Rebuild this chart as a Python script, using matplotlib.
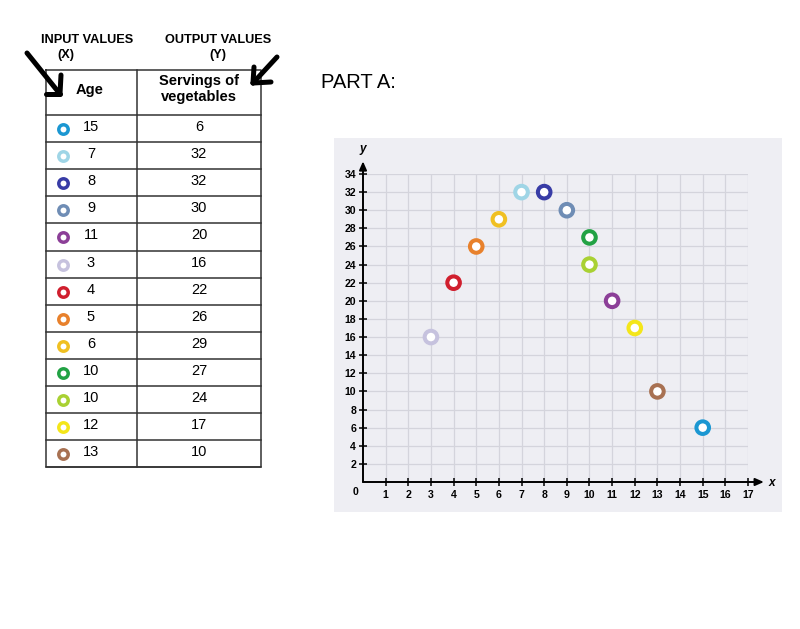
import matplotlib
matplotlib.use("Agg")
import matplotlib.pyplot as plt
from matplotlib.patches import Rectangle

plt.rcParams['font.family'] = ['Liberation Sans', 'DejaVu Sans']

# ---- data ----
ages = [15, 7, 8, 9, 11, 3, 4, 5, 6, 10, 10, 12, 13]
servings = [6, 32, 32, 30, 20, 16, 22, 26, 29, 27, 24, 17, 10]
colors = ['#1b97d2', '#9fd5e6', '#383ca6', '#6f8db5', '#8c3f98', '#c6c2de',
          '#d01f2e', '#e8812c', '#f0c022', '#22a244', '#a9d133', '#f4e61a', '#a87152']
x_ticks = list(range(1, 18))
y_ticks = list(range(2, 35, 2))

W, H = 800, 629
fig = plt.figure(figsize=(W / 100, H / 100), dpi=100)

# background / annotation layer in pixel coordinates
bg = fig.add_axes([0, 0, 1, 1])
bg.set_xlim(0, W)
bg.set_ylim(H, 0)
bg.axis('off')

# panel behind chart
bg.add_patch(Rectangle((334, 138), 448, 374, facecolor='#eeeef3', edgecolor='none', zorder=0))

# ---- table ----
tl, tm, tr = 45.5, 136.5, 260.5
top, head_bot, row_h = 70, 115, 27.1
n = len(ages)
bottom = head_bot + n * row_h
lc = '#333333'
bg.plot([tl, tr, tr, tl, tl], [top, top, bottom, bottom, top], color=lc, lw=1.1)
bg.plot([tm, tm], [top, bottom], color=lc, lw=1.1)
for i in range(n + 1):
    y = head_bot + i * row_h
    bg.plot([tl, tr], [y, y], color=lc, lw=1.1)

bg.text(90, 90, 'Age', ha='center', va='center', fontsize=10.5, fontweight='bold')
bg.text(199, 89, 'Servings of\nvegetables', ha='center', va='center', fontsize=10.5,
        fontweight='bold', linespacing=1.2)

for i, (a, s, c) in enumerate(zip(ages, servings, colors)):
    yc = head_bot + i * row_h + row_h / 2
    bg.scatter([63], [yc + 0.5], s=46, facecolors='white', edgecolors=c, linewidths=2.5, zorder=3)
    bg.text(91, yc - 1.5, str(a), ha='center', va='center', fontsize=10.5)
    bg.text(199, yc - 1.5, str(s), ha='center', va='center', fontsize=10.5)

# headers above the table
bg.text(87, 40, 'INPUT VALUES', ha='center', va='center', fontsize=9.2, fontweight='bold')
bg.text(66, 55, '(X)', ha='center', va='center', fontsize=9.2, fontweight='bold')
bg.text(218, 40, 'OUTPUT VALUES', ha='center', va='center', fontsize=9.2, fontweight='bold')
bg.text(218, 55, '(Y)', ha='center', va='center', fontsize=9.2, fontweight='bold')
bg.text(321, 83, 'PART A:', ha='left', va='center', fontsize=14.5)

# hand-drawn arrows
ak = dict(color='black', lw=3.6, solid_capstyle='round', solid_joinstyle='round')
bg.plot([27, 60], [53, 94], **ak)
bg.plot([60, 61], [94, 75], **ak)
bg.plot([60, 46], [94, 94], **ak)
bg.plot([277, 253], [57, 83], **ak)
bg.plot([253, 254], [83, 67], **ak)
bg.plot([253, 271], [83, 82], **ak)

# ---- scatter chart ----
x0, x1, y0, y1 = 363, 748, 482, 174
ax = fig.add_axes([x0 / W, (H - y0) / H, (x1 - x0) / W, (y0 - y1) / H])
ax.set_facecolor('none')
ax.set_xlim(0, 17)
ax.set_ylim(0, 34)
for sp in ax.spines.values():
    sp.set_visible(False)
ax.set_xticks(x_ticks)
ax.set_xticklabels([str(v) for v in x_ticks], fontweight='bold')
ax.set_yticks(y_ticks)
ax.set_yticklabels([str(v) for v in y_ticks], fontweight='bold')
ax.tick_params(direction='inout', length=6, width=1.1, color='black', labelsize=7.6, pad=2)
ax.tick_params(axis='x', pad=3)
for v in range(1, 18):
    ax.axvline(v, color='#d4d4dc', lw=0.9, zorder=0)
for v in y_ticks:
    ax.axhline(v, color='#d4d4dc', lw=0.9, zorder=0)

arrow = dict(arrowstyle='-|>,head_length=0.5,head_width=0.22', color='black', lw=1.4,
             shrinkA=0, shrinkB=0)
ax.annotate('', xy=(17.7, 0), xytext=(0, 0), arrowprops=arrow, annotation_clip=False)
ax.annotate('', xy=(0, 35.4), xytext=(0, 0), arrowprops=arrow, annotation_clip=False)
ax.text(18.05, -0.1, 'x', ha='center', va='center', fontsize=8.5, fontstyle='italic',
        fontweight='bold', clip_on=False)
ax.text(0.0, 36.8, 'y', ha='center', va='center', fontsize=8.5, fontstyle='italic',
        fontweight='bold', clip_on=False)
ax.text(-0.35, -1.15, '0', ha='center', va='center', fontsize=7.6, fontweight='bold', clip_on=False)

ax.scatter(ages, servings, s=82, facecolors='white', edgecolors=colors, linewidths=2.9,
           zorder=5, clip_on=False)

fig.savefig('out.png', dpi=100)
